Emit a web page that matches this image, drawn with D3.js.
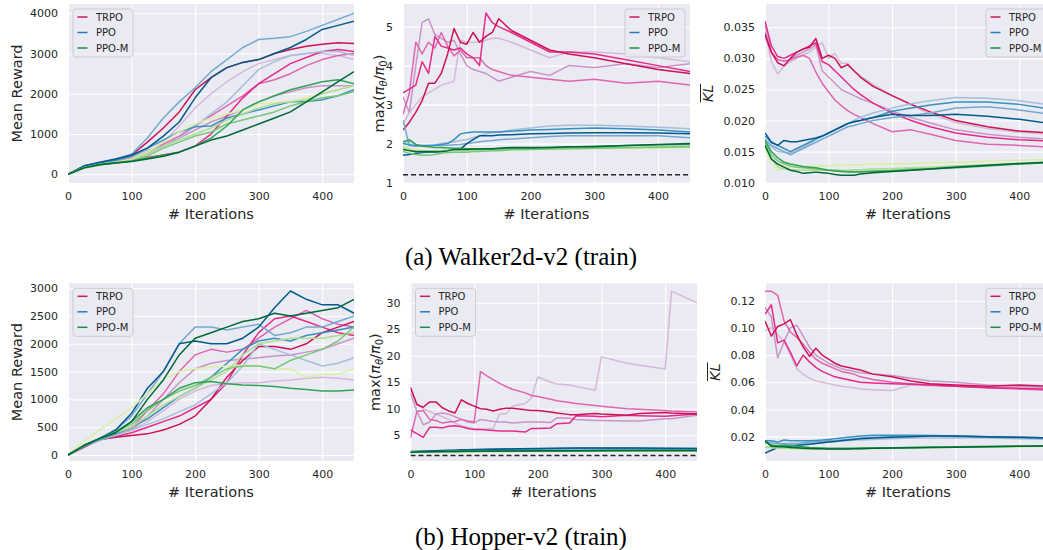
<!DOCTYPE html>
<html>
<head>
<meta charset="utf-8">
<script src="https://cdn.jsdelivr.net/npm/d3@7"></script>
<style>
body { margin: 0; background: #fff; }
svg { display: block; font-family: "DejaVu Sans", sans-serif; }
</style>
</head>
<body>
<svg width="1043" height="550"></svg>
<script>
// iteration positions of the sampled curve points
var rewardIters = [0,25,50,75,100,125,150,175,200,225,250,275,300,325,350,375,400,425,450];
var ratioIters = [0,10,20,30,40,50,60,70,80,90,100,110,120,130,140,150,170,200,230,260,300,350,400,450];
var hopperTrpoRatioIters = [0,10,20,30,40,50,60,70,80,90,100,110,120,130,140,150,160,180,190,200,220,230,250,260,290,300,340,360,400,410,450];
var xTicks = [0,100,200,300,400];

var methods = ["TRPO", "PPO", "PPO-M"];
var legendColors = ["#cc1a5e", "#2a7ab9", "#1f8a4c"];
// one shade per seed, light -> dark
var trpoShades = ["#d4b9da", "#c994c7", "#df65b0", "#e7298a", "#ce1256"];
var ppoShades = ["#a6bddb", "#74a9cf", "#3690c0", "#045a8d"];
var ppomShades = ["#d9f0a3", "#addd8e", "#78c679", "#31a354", "#006837"];

// ---- Walker2d-v2 : mean reward
var walkerRewardTicks = [0,1000,2000,3000,4000];
var walkerRewardTRPO = [
  [0,180,270,320,400,550,800,1200,1650,2000,2300,2550,2750,2850,2950,3000,3000,2950,2850],
  [0,170,260,310,350,500,700,900,1100,1300,1450,1600,1800,1950,2050,2150,2200,2200,2200],
  [0,190,280,330,400,550,750,950,1200,1450,1700,1950,2250,2350,2500,2700,2850,2950,3000],
  [0,180,260,300,350,420,480,550,700,1000,1450,1900,2250,2500,2750,2900,3050,3100,3050],
  [0,200,290,370,480,800,1150,1550,2100,2400,2650,2780,2850,3000,3100,3180,3230,3270,3250]
];
var walkerRewardPPO = [
  [0,190,280,340,450,600,700,900,1200,1500,1800,2200,2600,2800,2950,3000,3050,3050,2950],
  [0,200,290,380,500,900,1400,1800,2150,2550,2850,3150,3350,3380,3420,3550,3700,3850,4000],
  [0,190,280,350,450,650,850,1050,1180,1200,1400,1500,1600,1700,1800,1800,1850,1950,2100],
  [0,210,300,380,480,650,950,1300,1900,2400,2650,2780,2850,3000,3150,3350,3600,3700,3800]
];
var walkerRewardPPOM = [
  [0,170,250,300,380,550,800,1050,1250,1400,1500,1600,1750,1780,1800,1900,2000,2100,2200],
  [0,160,240,290,350,500,700,850,1000,1150,1350,1500,1650,1750,1800,1850,2000,2100,2200],
  [0,150,230,280,330,450,650,800,950,1050,1250,1350,1450,1550,1700,1800,1900,1950,2050],
  [0,170,250,290,330,400,480,550,700,900,1200,1600,1800,1950,2100,2200,2300,2350,2250],
  [0,160,240,280,320,380,450,550,700,850,950,1100,1250,1400,1550,1800,2050,2300,2550]
];

// ---- Walker2d-v2 : max probability ratio
var walkerRatioTicks = [1,2,3,4,5];
var walkerRatioBaseline = 1.2;
var walkerRatioTRPO = [
  [2.5,2.8,3.0,3.2,3.3,3.4,3.5,3.55,3.6,4.65,4.6,4.6,4.6,4.65,4.7,4.7,4.6,4.4,4.2,4.35,4.35,4.3,4.2,4.1],
  [3.2,2.8,4.0,5.1,5.2,4.8,4.7,4.6,4.65,4.3,4.0,3.9,3.85,3.8,3.7,3.6,3.7,3.85,3.75,4.0,3.95,4.05,3.95,4.05],
  [2.75,3.3,4.6,4.3,4.6,4.45,4.85,4.5,4.25,4.4,4.2,4.2,4.2,4.0,3.9,3.85,3.75,3.7,3.65,3.6,3.65,3.55,3.6,3.5],
  [3.3,3.4,3.5,4.1,3.8,4.75,4.5,4.45,4.4,4.45,4.3,4.2,4.0,5.35,5.1,5.0,4.85,4.6,4.35,4.35,4.3,4.15,4.0,3.85],
  [2.35,2.55,2.8,3.1,3.55,3.55,3.8,4.3,4.95,4.6,4.55,4.85,4.6,4.75,4.85,5.2,4.9,4.65,4.4,4.3,4.2,4.05,3.9,3.8]
];
var walkerRatioPPO = [
  [2.0,2.05,1.98,1.95,1.95,1.97,2.0,2.02,2.05,2.08,2.1,2.15,2.2,2.25,2.28,2.3,2.35,2.4,2.45,2.47,2.47,2.45,2.42,2.38],
  [2.6,1.95,1.93,1.93,1.93,1.95,1.95,1.96,1.97,1.98,2.0,2.02,2.05,2.07,2.08,2.1,2.12,2.15,2.18,2.2,2.2,2.2,2.2,2.15],
  [2.0,1.97,1.95,1.95,1.95,1.96,1.98,2.0,2.1,2.25,2.28,2.3,2.3,2.3,2.3,2.3,2.32,2.35,2.36,2.38,2.4,2.38,2.35,2.3],
  [1.7,1.72,1.75,1.77,1.78,1.78,1.8,1.82,1.84,1.86,2.0,2.1,2.2,2.2,2.2,2.22,2.23,2.25,2.26,2.27,2.28,2.28,2.27,2.25]
];
var walkerRatioPPOM = [
  [1.95,1.88,1.85,1.83,1.82,1.82,1.82,1.83,1.83,1.83,1.83,1.84,1.84,1.84,1.84,1.85,1.85,1.85,1.86,1.86,1.87,1.88,1.88,1.9],
  [1.9,1.85,1.8,1.8,1.8,1.8,1.8,1.81,1.82,1.82,1.82,1.83,1.83,1.84,1.85,1.85,1.86,1.87,1.87,1.88,1.88,1.89,1.9,1.92],
  [1.8,1.75,1.72,1.7,1.7,1.72,1.75,1.77,1.78,1.78,1.78,1.8,1.8,1.81,1.82,1.82,1.84,1.85,1.86,1.87,1.88,1.9,1.91,1.92],
  [2.05,2.1,1.98,1.93,1.92,1.9,1.9,1.89,1.88,1.88,1.87,1.86,1.86,1.86,1.86,1.87,1.88,1.88,1.9,1.91,1.93,1.95,1.97,1.98],
  [1.85,1.82,1.8,1.8,1.8,1.8,1.8,1.82,1.85,1.85,1.85,1.86,1.86,1.87,1.87,1.88,1.9,1.9,1.9,1.92,1.92,1.95,1.98,2.0]
];

// ---- Walker2d-v2 : mean KL
var walkerKlTicks = [0.010,0.015,0.020,0.025,0.030,0.035];
var walkerKlTRPO = [
  [0.0345,0.0295,0.0275,0.0288,0.0295,0.030,0.0305,0.031,0.0318,0.0325,0.030,0.0308,0.0292,0.0292,0.028,0.0272,0.0258,0.024,0.0225,0.021,0.0197,0.0187,0.0181,0.0178],
  [0.0355,0.031,0.0298,0.0295,0.0298,0.0305,0.031,0.0315,0.0322,0.028,0.027,0.026,0.025,0.0245,0.024,0.0235,0.0228,0.0215,0.0205,0.0196,0.0185,0.0178,0.0173,0.017],
  [0.0335,0.031,0.0298,0.0296,0.0298,0.0302,0.0305,0.030,0.0278,0.026,0.0246,0.0233,0.0224,0.0216,0.021,0.0205,0.0195,0.0182,0.0185,0.0178,0.0168,0.0162,0.016,0.0157],
  [0.036,0.032,0.0303,0.030,0.0305,0.031,0.0315,0.032,0.0325,0.0295,0.029,0.028,0.027,0.026,0.025,0.0242,0.0228,0.0212,0.020,0.019,0.018,0.0173,0.0169,0.0167],
  [0.034,0.031,0.0293,0.0288,0.030,0.031,0.0315,0.0318,0.0332,0.030,0.0305,0.030,0.0285,0.029,0.028,0.027,0.0255,0.024,0.0226,0.0214,0.020,0.019,0.0183,0.018]
];
var walkerKlPPO = [
  [0.0165,0.0158,0.015,0.0149,0.0148,0.0152,0.0157,0.0163,0.017,0.0175,0.018,0.0185,0.019,0.0195,0.020,0.0205,0.0212,0.022,0.0227,0.0232,0.0237,0.0236,0.0232,0.0225],
  [0.017,0.016,0.0155,0.015,0.0145,0.015,0.0155,0.016,0.0165,0.017,0.0175,0.018,0.0185,0.019,0.0192,0.0195,0.020,0.0205,0.0208,0.0212,0.022,0.0222,0.0217,0.021],
  [0.0175,0.0165,0.016,0.0155,0.015,0.0155,0.016,0.0165,0.017,0.0175,0.018,0.0185,0.019,0.0195,0.0198,0.020,0.0205,0.0215,0.022,0.0225,0.023,0.023,0.0226,0.0218],
  [0.018,0.0165,0.016,0.0168,0.0166,0.0166,0.0168,0.017,0.0172,0.0175,0.018,0.0185,0.019,0.0195,0.0198,0.020,0.0205,0.021,0.0208,0.0208,0.021,0.0207,0.0202,0.0195]
];
var walkerKlPPOM = [
  [0.0155,0.013,0.012,0.0125,0.0125,0.0125,0.0126,0.0126,0.0127,0.0127,0.0127,0.0128,0.0128,0.0128,0.0129,0.0129,0.013,0.013,0.0131,0.0132,0.0133,0.0135,0.0136,0.0138],
  [0.016,0.014,0.0125,0.0122,0.0121,0.0121,0.012,0.012,0.012,0.012,0.012,0.012,0.012,0.012,0.0121,0.0121,0.0122,0.0123,0.0124,0.0125,0.0127,0.0129,0.0131,0.0134],
  [0.0165,0.0145,0.0135,0.013,0.0127,0.0125,0.0124,0.0123,0.0122,0.0121,0.012,0.012,0.0119,0.0118,0.0118,0.0118,0.0119,0.012,0.0122,0.0123,0.0126,0.0128,0.013,0.0133],
  [0.0168,0.015,0.014,0.0133,0.013,0.0128,0.0126,0.0125,0.0124,0.0122,0.012,0.0119,0.0118,0.0117,0.0117,0.0117,0.0118,0.0119,0.012,0.0122,0.0124,0.0127,0.013,0.0132],
  [0.016,0.0138,0.013,0.0125,0.012,0.0118,0.0115,0.0116,0.0117,0.0116,0.0115,0.0113,0.0112,0.0112,0.0112,0.0114,0.0116,0.0118,0.012,0.0122,0.0125,0.0128,0.0131,0.0133]
];

// ---- Hopper-v2 : mean reward
var hopperRewardTicks = [0,500,1000,1500,2000,2500,3000];
var hopperRewardTRPO = [
  [0,150,260,380,450,600,800,1000,1150,1250,1280,1300,1300,1330,1350,1380,1400,1380,1350],
  [0,160,280,380,450,700,1000,1300,1550,1650,1700,1720,1750,1780,1800,1850,1900,2000,2100],
  [0,170,300,400,480,800,1100,1500,1800,1900,1850,1900,2100,2300,2450,2600,2450,2350,2300],
  [0,150,280,330,400,500,600,700,850,1000,1300,1800,2200,2450,2500,2400,2300,2200,2150],
  [0,140,280,320,350,380,450,550,700,1000,1400,1700,1950,1950,1900,2000,2200,2300,2400]
];
var hopperRewardPPO = [
  [0,150,270,350,450,550,650,780,900,1100,1300,1600,2000,1900,1800,1700,1600,1650,1750],
  [0,170,300,450,700,1100,1500,2000,2300,2300,2250,2300,2350,2150,2200,2300,2300,2400,2500],
  [0,150,280,380,500,650,850,1050,1200,1400,1650,1900,2050,2100,2050,2150,2200,2250,2300],
  [0,170,300,450,750,1200,1500,2000,2050,2000,2000,2100,2300,2650,2950,2800,2700,2700,2550]
];
var hopperRewardPPOM = [
  [0,250,450,650,850,1100,1350,1500,1550,1580,1600,1620,1600,1550,1550,1400,1450,1450,1550],
  [0,170,300,400,500,700,900,1050,1200,1350,1500,1800,2000,2050,2100,2100,2100,2150,2200],
  [0,170,300,420,550,800,1000,1150,1250,1400,1550,1600,1600,1550,1700,1800,1900,2050,2300],
  [0,170,300,420,600,850,1000,1200,1300,1320,1280,1260,1250,1230,1200,1180,1150,1150,1170],
  [0,170,300,400,600,1000,1350,1800,2100,2200,2300,2400,2450,2550,2500,2550,2600,2650,2800]
];

// ---- Hopper-v2 : max probability ratio
var hopperRatioTicks = [5,10,15,20,25,30];
var hopperRatioBaseline = 1.2;
var hopperRatioTRPO = [
  [14,11,10,9.5,9,8.5,8,7.3,6.8,6.5,6.2,6.2,6.2,6.3,9,9,10.5,11,12,16,15,14.7,14.5,14.2,13.5,19.8,18.6,18.2,17.5,32.2,30],
  [13,9.5,7,7.5,9,9.2,9,8.5,8,7.5,7.3,8,7.8,7.6,7.5,7.5,7.3,7.5,7.5,7.5,7.4,8.3,8.2,8.0,7.8,7.8,7.7,7.7,8.1,8.1,8.8],
  [4.5,9.5,9.7,8.0,7.8,7.3,7.5,7.6,8.0,7.7,7.5,17,16.2,15.5,14.8,14.2,13.7,13,12.5,12.3,11.8,11.5,11.2,11,10.6,10.5,10,9.9,9.7,9.6,9.4],
  [6,5.3,4.6,6.5,6.5,6.4,6.7,6.8,6.6,6.3,6.1,6.1,6.0,5.9,5.8,5.8,5.8,5.6,6.3,6.3,6.4,7.2,7.3,8.7,8.6,8.5,8.8,8.7,8.6,8.7,9.0],
  [14,10.8,10.3,11.3,11.3,10.2,9.6,9.2,11.7,11,10.5,10,9.9,9.6,9.9,10.1,10.1,9.8,9.7,9.7,9.4,9.2,8.9,8.9,9.1,9.0,8.8,9.1,9.3,9.2,9.0]
];
var hopperRatioPPO = [
  [1.9,1.95,2.0,2.0,2.05,2.05,2.1,2.1,2.1,2.15,2.15,2.15,2.2,2.2,2.2,2.2,2.25,2.3,2.3,2.3,2.3,2.3,2.3,2.3],
  [2.0,2.0,2.05,2.05,2.1,2.1,2.15,2.15,2.2,2.2,2.2,2.25,2.25,2.3,2.3,2.3,2.35,2.4,2.45,2.45,2.45,2.45,2.4,2.4],
  [1.8,1.85,1.9,1.95,2.0,2.05,2.1,2.15,2.2,2.2,2.25,2.3,2.3,2.35,2.35,2.4,2.4,2.45,2.5,2.55,2.55,2.55,2.5,2.5],
  [1.9,1.95,2.0,2.05,2.1,2.15,2.2,2.2,2.25,2.25,2.3,2.3,2.35,2.35,2.4,2.4,2.45,2.5,2.55,2.6,2.6,2.6,2.55,2.5]
];
var hopperRatioPPOM = [
  [1.8,1.8,1.82,1.83,1.84,1.85,1.86,1.87,1.88,1.88,1.89,1.9,1.9,1.91,1.92,1.92,1.93,1.95,1.96,1.97,1.98,2.0,2.0,2.0],
  [1.9,1.88,1.88,1.9,1.9,1.9,1.92,1.92,1.93,1.93,1.94,1.94,1.95,1.95,1.96,1.96,1.97,1.98,2.0,2.0,2.02,2.03,2.05,2.05],
  [1.85,1.85,1.87,1.88,1.9,1.9,1.92,1.93,1.94,1.95,1.96,1.97,1.98,1.98,2.0,2.0,2.02,2.04,2.05,2.06,2.08,2.1,2.1,2.1],
  [1.75,1.8,1.85,1.88,1.9,1.92,1.94,1.95,1.96,1.97,1.98,1.99,2.0,2.0,2.01,2.02,2.03,2.05,2.06,2.08,2.1,2.12,2.12,2.12],
  [1.8,1.85,1.88,1.9,1.92,1.94,1.95,1.96,1.97,1.98,1.99,2.0,2.01,2.02,2.03,2.04,2.05,2.07,2.08,2.1,2.12,2.14,2.15,2.15]
];

// ---- Hopper-v2 : mean KL
var hopperKlTicks = [0.02,0.04,0.06,0.08,0.10,0.12];
var hopperKlTRPO = [
  [0.098,0.100,0.095,0.090,0.080,0.070,0.066,0.063,0.061,0.060,0.059,0.058,0.057,0.0565,0.056,0.055,0.0545,0.054,0.058,0.0575,0.057,0.0565,0.056,0.055],
  [0.115,0.108,0.078,0.090,0.100,0.102,0.094,0.086,0.080,0.077,0.074,0.072,0.070,0.069,0.068,0.067,0.066,0.065,0.063,0.061,0.060,0.058,0.057,0.056],
  [0.127,0.127,0.124,0.105,0.097,0.093,0.088,0.082,0.077,0.074,0.072,0.070,0.068,0.067,0.066,0.064,0.062,0.060,0.059,0.058,0.057,0.056,0.055,0.054],
  [0.110,0.117,0.089,0.091,0.082,0.072,0.080,0.075,0.071,0.068,0.066,0.064,0.063,0.062,0.061,0.060,0.0595,0.059,0.0585,0.058,0.057,0.056,0.0555,0.055],
  [0.105,0.094,0.101,0.103,0.106,0.095,0.086,0.079,0.085,0.080,0.077,0.074,0.072,0.071,0.070,0.069,0.066,0.064,0.061,0.059,0.058,0.057,0.058,0.057]
];
var hopperKlPPO = [
  [0.012,0.013,0.013,0.0135,0.014,0.014,0.0145,0.015,0.015,0.0155,0.016,0.0165,0.017,0.017,0.0175,0.0175,0.018,0.0185,0.019,0.019,0.019,0.019,0.0185,0.018],
  [0.016,0.0155,0.015,0.015,0.015,0.015,0.0155,0.016,0.016,0.0165,0.017,0.017,0.0175,0.018,0.0185,0.019,0.0195,0.020,0.0205,0.0205,0.020,0.0195,0.019,0.0185],
  [0.017,0.017,0.016,0.0175,0.017,0.017,0.017,0.017,0.0172,0.0175,0.018,0.0185,0.019,0.0195,0.020,0.0205,0.021,0.021,0.021,0.0208,0.0205,0.020,0.0195,0.019],
  [0.008,0.010,0.012,0.013,0.013,0.0135,0.014,0.0145,0.015,0.0155,0.016,0.0165,0.017,0.0175,0.018,0.0185,0.019,0.0195,0.020,0.0205,0.0205,0.020,0.0195,0.019]
];
var hopperKlPPOM = [
  [0.015,0.013,0.012,0.0115,0.011,0.011,0.011,0.0108,0.0108,0.0108,0.0108,0.011,0.011,0.011,0.011,0.0112,0.0113,0.0115,0.0117,0.012,0.0122,0.0125,0.0127,0.013],
  [0.012,0.012,0.0115,0.0115,0.0115,0.0113,0.0112,0.011,0.011,0.011,0.011,0.011,0.011,0.011,0.0111,0.0112,0.0113,0.0115,0.0117,0.012,0.0123,0.0126,0.0128,0.013],
  [0.016,0.014,0.013,0.0125,0.012,0.0118,0.0116,0.0115,0.0114,0.0113,0.0112,0.0112,0.0112,0.0112,0.0113,0.0114,0.0115,0.0117,0.012,0.0122,0.0125,0.0128,0.013,0.0133],
  [0.0165,0.0135,0.0135,0.0138,0.0135,0.013,0.0125,0.012,0.0118,0.0116,0.0115,0.0114,0.0114,0.0114,0.0115,0.0116,0.0117,0.0118,0.012,0.0122,0.0125,0.0128,0.013,0.0132],
  [0.017,0.013,0.0125,0.0125,0.012,0.0118,0.0115,0.0113,0.0112,0.0111,0.011,0.011,0.011,0.011,0.0111,0.0112,0.0114,0.0116,0.0118,0.012,0.0123,0.0126,0.0129,0.0132]
];

var captions = ["(a) Walker2d-v2 (train)", "(b) Hopper-v2 (train)"];

var svg = d3.select("svg");

function groups(iters, trpo, ppo, ppom, ppoIters) {
  return [
    {iters: iters, runs: trpo, shades: trpoShades},
    {iters: ppoIters || iters, runs: ppo, shades: ppoShades},
    {iters: ppoIters || iters, runs: ppom, shades: ppomShades}
  ];
}

var panels = [
  {l: 68, r: 354, t: 4, b: 183, y: [-216, 4231], ticks: walkerRewardTicks, fmt: "d",
   label: "reward", labelX: 17, legend: "left",
   groups: groups(rewardIters, walkerRewardTRPO, walkerRewardPPO, walkerRewardPPOM)},
  {l: 403, r: 690, t: 4, b: 183, y: [0.99, 5.58], ticks: walkerRatioTicks, fmt: "d",
   label: "ratio", labelX: 379, legend: "right", baseline: walkerRatioBaseline,
   groups: groups(ratioIters, walkerRatioTRPO, walkerRatioPPO, walkerRatioPPOM)},
  {l: 765, r: 1051, t: 4, b: 183, y: [0.00995, 0.03875], ticks: walkerKlTicks, fmt: ".3f",
   label: "kl", labelX: 708, legend: "right",
   groups: groups(ratioIters, walkerKlTRPO, walkerKlPPO, walkerKlPPOM)},
  {l: 68, r: 354, t: 283.3, b: 461, y: [-108, 3088], ticks: hopperRewardTicks, fmt: "d",
   label: "reward", labelX: 17, legend: "left",
   groups: groups(rewardIters, hopperRewardTRPO, hopperRewardPPO, hopperRewardPPOM)},
  {l: 410.5, r: 697, t: 283.3, b: 461, y: [0.15, 33.68], ticks: hopperRatioTicks, fmt: "d",
   label: "ratio", labelX: 375, legend: "left", baseline: hopperRatioBaseline,
   groups: groups(hopperTrpoRatioIters, hopperRatioTRPO, hopperRatioPPO, hopperRatioPPOM, ratioIters)},
  {l: 765, r: 1051, t: 283.3, b: 461, y: [0.0021, 0.1328], ticks: hopperKlTicks, fmt: ".2f",
   label: "kl", labelX: 715, legend: "right",
   groups: groups(ratioIters, hopperKlTRPO, hopperKlPPO, hopperKlPPOM)}
];

var textColor = "#262626";

panels.forEach(function(p, pi) {
  var x = d3.scaleLinear().domain([0, 450]).range([p.l, p.r]);
  var y = d3.scaleLinear().domain(p.y).range([p.b, p.t]);
  var g = svg.append("g");

  g.append("rect")
    .attr("x", p.l).attr("y", p.t)
    .attr("width", p.r - p.l).attr("height", p.b - p.t)
    .attr("fill", "#eaeaf2");

  // grid + tick labels
  var xa = g.append("g")
    .attr("transform", "translate(0," + p.b + ")")
    .call(d3.axisBottom(x).tickValues(xTicks).tickSize(-(p.b - p.t)).tickPadding(9));
  var ya = g.append("g")
    .attr("transform", "translate(" + p.l + ",0)")
    .call(d3.axisLeft(y).tickValues(p.ticks).tickFormat(d3.format(p.fmt)).tickSize(-(p.r - p.l)).tickPadding(10));
  [xa, ya].forEach(function(a) {
    a.select(".domain").remove();
    a.selectAll("line").attr("stroke", "#fff").attr("stroke-width", 1.1);
    a.selectAll("text").attr("fill", textColor).style("font-size", "11px")
      .style("font-family", "DejaVu Sans");
  });

  var clipId = "clip" + pi;
  g.append("clipPath").attr("id", clipId).append("rect")
    .attr("x", p.l).attr("y", p.t)
    .attr("width", p.r - p.l).attr("height", p.b - p.t);
  var plot = g.append("g").attr("clip-path", "url(#" + clipId + ")");

  p.groups.forEach(function(grp) {
    var line = d3.line()
      .x(function(d, i) { return x(grp.iters[i]); })
      .y(function(d) { return y(d); });
    grp.runs.forEach(function(run, k) {
      plot.append("path")
        .datum(run.slice(0, grp.iters.length))
        .attr("fill", "none")
        .attr("stroke", grp.shades[k])
        .attr("stroke-width", 1.5)
        .attr("stroke-linejoin", "round")
        .attr("d", line);
    });
  });

  if (p.baseline !== undefined) {
    plot.append("line")
      .attr("x1", x(0)).attr("x2", x(450))
      .attr("y1", y(p.baseline)).attr("y2", y(p.baseline))
      .attr("stroke", "#262626").attr("stroke-width", 1.5)
      .attr("stroke-dasharray", "5,3");
  }

  // x label
  g.append("text")
    .attr("x", (p.l + p.r) / 2)
    .attr("y", p.b + 36)
    .attr("text-anchor", "middle")
    .attr("fill", textColor)
    .style("font-size", "14.5px")
    .text("# Iterations");

  // y label
  var cy = (p.t + p.b) / 2;
  var yl = g.append("text")
    .attr("transform", "translate(" + p.labelX + "," + cy + ") rotate(-90)")
    .attr("dy", "0.35em")
    .attr("text-anchor", "middle")
    .attr("fill", textColor)
    .style("font-size", "14.5px");
  if (p.label === "reward") {
    yl.text("Mean Reward");
  } else if (p.label === "ratio") {
    yl.append("tspan").text("max(");
    yl.append("tspan").style("font-style", "italic").text("π");
    yl.append("tspan").style("font-style", "italic").style("font-size", "10px").attr("dy", 3).text("θ");
    yl.append("tspan").attr("dy", -3).text("/");
    yl.append("tspan").style("font-style", "italic").text("π");
    yl.append("tspan").style("font-size", "10px").attr("dy", 3).text("0");
    yl.append("tspan").attr("dy", -3).text(")");
  } else {
    yl.style("font-style", "italic").text("KL");
    var w = yl.node().getComputedTextLength();
    g.append("line")
      .attr("transform", "translate(" + p.labelX + "," + cy + ") rotate(-90)")
      .attr("x1", -w / 2).attr("x2", w / 2 + 1)
      .attr("y1", -7.5).attr("y2", -7.5)
      .attr("stroke", textColor).attr("stroke-width", 1);
  }

  // legend
  var lx = p.legend === "left" ? p.l + 5 : p.r - 65;
  var ly = p.t + 5;
  var leg = g.append("g").attr("transform", "translate(" + lx + "," + ly + ")");
  leg.append("rect")
    .attr("width", 60).attr("height", 48).attr("rx", 3)
    .attr("fill", "#eaeaf2").attr("fill-opacity", 0.8)
    .attr("stroke", "#cccccc").attr("stroke-width", 1);
  methods.forEach(function(m, i) {
    var ry = 8 + i * 15.5;
    leg.append("line")
      .attr("x1", 4.5).attr("x2", 14.5).attr("y1", ry).attr("y2", ry)
      .attr("stroke", legendColors[i]).attr("stroke-width", 1.5);
    leg.append("text")
      .attr("x", 23).attr("y", ry).attr("dy", "0.35em")
      .attr("fill", textColor)
      .style("font-size", "10px")
      .text(m);
  });
});

// sub-figure captions
svg.selectAll(".caption")
  .data(captions)
  .enter().append("text")
  .attr("class", "caption")
  .attr("x", 521)
  .attr("y", function(d, i) { return i === 0 ? 265 : 545; })
  .attr("text-anchor", "middle")
  .attr("fill", "#000")
  .style("font-family", "'Liberation Serif', 'Times New Roman', serif")
  .style("font-size", "25px")
  .text(function(d) { return d; });
</script>
</body>
</html>
